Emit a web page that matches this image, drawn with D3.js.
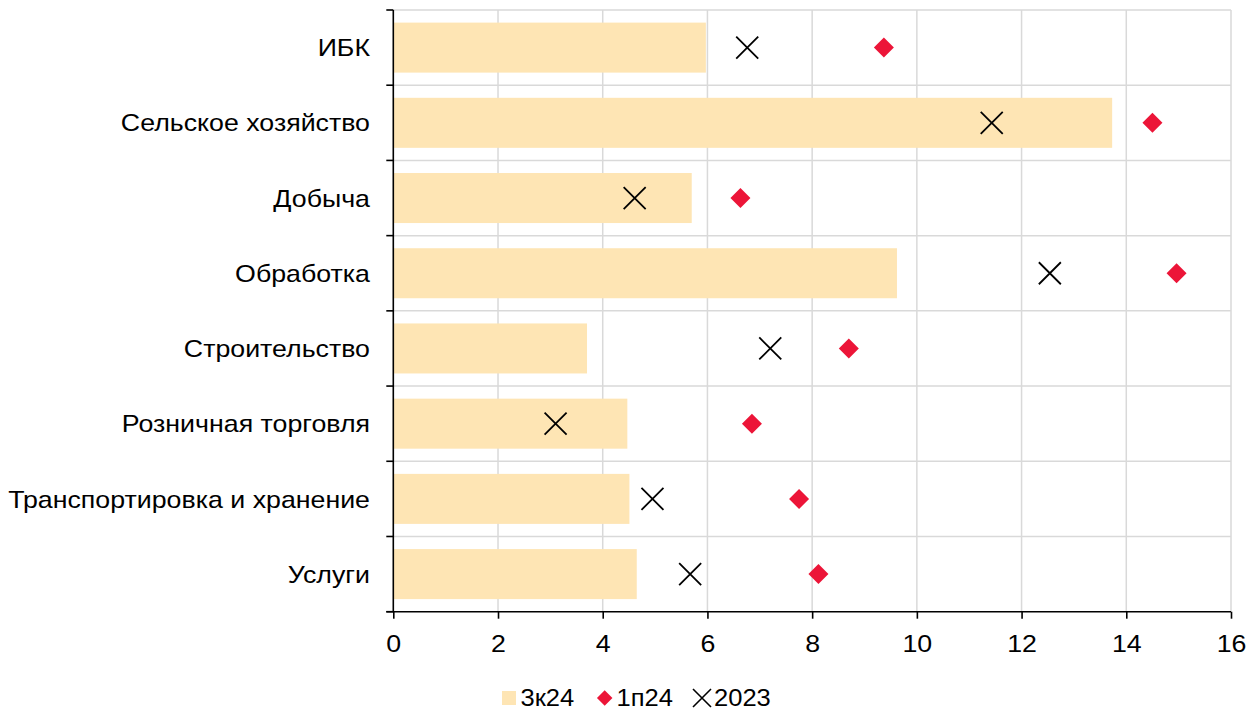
<!DOCTYPE html>
<html><head><meta charset="utf-8">
<script src="https://cdn.jsdelivr.net/npm/d3@7/dist/d3.min.js"></script>
<style>body{margin:0;background:#fff}svg{display:block}text{font-family:"Liberation Sans",Arial,sans-serif;fill:#000}</style>
</head><body>
<svg id="c" width="1257" height="711"></svg>
<script>
const categories = ["ИБК","Сельское хозяйство","Добыча","Обработка","Строительство","Розничная торговля","Транспортировка и хранение","Услуги"];
const s3k24 = [5.97, 13.73, 5.70, 9.62, 3.70, 4.47, 4.51, 4.65];
const s1p24 = [9.37, 14.50, 6.63, 14.96, 8.70, 6.85, 7.75, 8.12];
const s2023 = [6.76, 11.43, 4.61, 12.54, 7.20, 3.10, 4.95, 5.67];
const xTicks = [0,2,4,6,8,10,12,14,16];
const legendLabels = ["3к24","1п24","2023"];

const svg = d3.select("#c");
const L = 393.3, R = 1231, T = 10, B = 611.7;
const SX = 1.115, FS = 24;
const x = d3.scaleLinear().domain([0,16]).range([L,R]);
const y = d3.scaleBand().domain(categories).range([T,B]).paddingInner(0.335).paddingOuter(0.1675);
const yb = d3.scaleLinear().domain([0,categories.length]).range([T,B]);
const grid = "#d9d9d9";

// vertical grid
svg.append("g").selectAll("line").data(xTicks.slice(1)).join("line")
  .attr("x1",d=>x(d)).attr("x2",d=>x(d)).attr("y1",T).attr("y2",B)
  .attr("stroke",grid).attr("stroke-width",1.5);
// horizontal grid at band boundaries
svg.append("g").selectAll("line").data(d3.range(0,categories.length)).join("line")
  .attr("x1",L).attr("x2",R).attr("y1",d=>yb(d)).attr("y2",d=>yb(d))
  .attr("stroke",grid).attr("stroke-width",1.5);

// bars
svg.append("g").selectAll("rect").data(categories).join("rect")
  .attr("x",x(0)).attr("y",d=>y(d)).attr("height",y.bandwidth())
  .attr("width",(d,i)=>x(s3k24[i])-x(0)).attr("fill","#FEE5B4");

// axes
const yAxisG = svg.append("g");
yAxisG.append("line").attr("x1",L).attr("x2",L).attr("y1",T).attr("y2",B).attr("stroke","#000").attr("stroke-width",1.6);
yAxisG.selectAll("line.t").data(d3.range(0,categories.length+1)).join("line").attr("class","t")
  .attr("x1",L-7).attr("x2",L).attr("y1",d=>yb(d)).attr("y2",d=>yb(d)).attr("stroke","#000").attr("stroke-width",1.6);
yAxisG.selectAll("text").data(categories).join("text")
  .attr("transform",d=>`translate(370,${y(d)+y.bandwidth()/2}) scale(${SX},1)`)
  .attr("text-anchor","end").attr("dy","0.36em").attr("font-size",FS).text(d=>d);

const xAxisG = svg.append("g").attr("transform",`translate(0,${B})`);
xAxisG.call(d3.axisBottom(x).tickValues(xTicks).tickSize(7).tickSizeOuter(0).tickFormat(d3.format("d")));
xAxisG.select(".domain").attr("d",`M${L-7},0H${R}`).attr("stroke","#000").attr("stroke-width",1.6);
xAxisG.selectAll(".tick line").attr("stroke","#000").attr("stroke-width",1.6);
xAxisG.selectAll(".tick text").attr("font-size",FS).attr("y",0).attr("dy",0)
  .attr("transform",`translate(0,40.5) scale(${SX},1)`).attr("font-family","Liberation Sans, Arial, sans-serif").attr("fill","#000");

// markers
svg.append("g").selectAll("path").data(categories).join("path")
  .attr("transform",(d,i)=>`translate(${x(s1p24[i])},${y(d)+y.bandwidth()/2}) rotate(45)`)
  .attr("d",d3.symbol().type(d3.symbolSquare).size(200)).attr("fill","#EC1538");
const xs = 11;
svg.append("g").selectAll("path").data(categories).join("path")
  .attr("d",(d,i)=>{const cx=x(s2023[i]), cy=y(d)+y.bandwidth()/2;
     return `M${cx-xs},${cy-xs}L${cx+xs},${cy+xs}M${cx-xs},${cy+xs}L${cx+xs},${cy-xs}`;})
  .attr("stroke","#000").attr("stroke-width",1.8).attr("fill","none");

// legend
const lg = svg.append("g");
const ly = 698;
lg.append("rect").attr("x",502).attr("y",ly-7).attr("width",14).attr("height",14).attr("fill","#FEE5B4");
lg.append("path").attr("transform",`translate(604.7,${ly}) rotate(45)`).attr("d",d3.symbol().type(d3.symbolSquare).size(120)).attr("fill","#EC1538");
lg.append("path").attr("d",`M${702-9},${ly-9}L${702+9},${ly+9}M${702-9},${ly+9}L${702+9},${ly-9}`).attr("stroke","#000").attr("stroke-width",1.6);
const lx = [520.5, 616.5, 714];
lg.selectAll("text").data(legendLabels).join("text")
  .attr("transform",(d,i)=>`translate(${lx[i]},${ly}) scale(1.11,1)`)
  .attr("dy","0.36em").attr("font-size",23).text(d=>d);
</script>
</body></html>
